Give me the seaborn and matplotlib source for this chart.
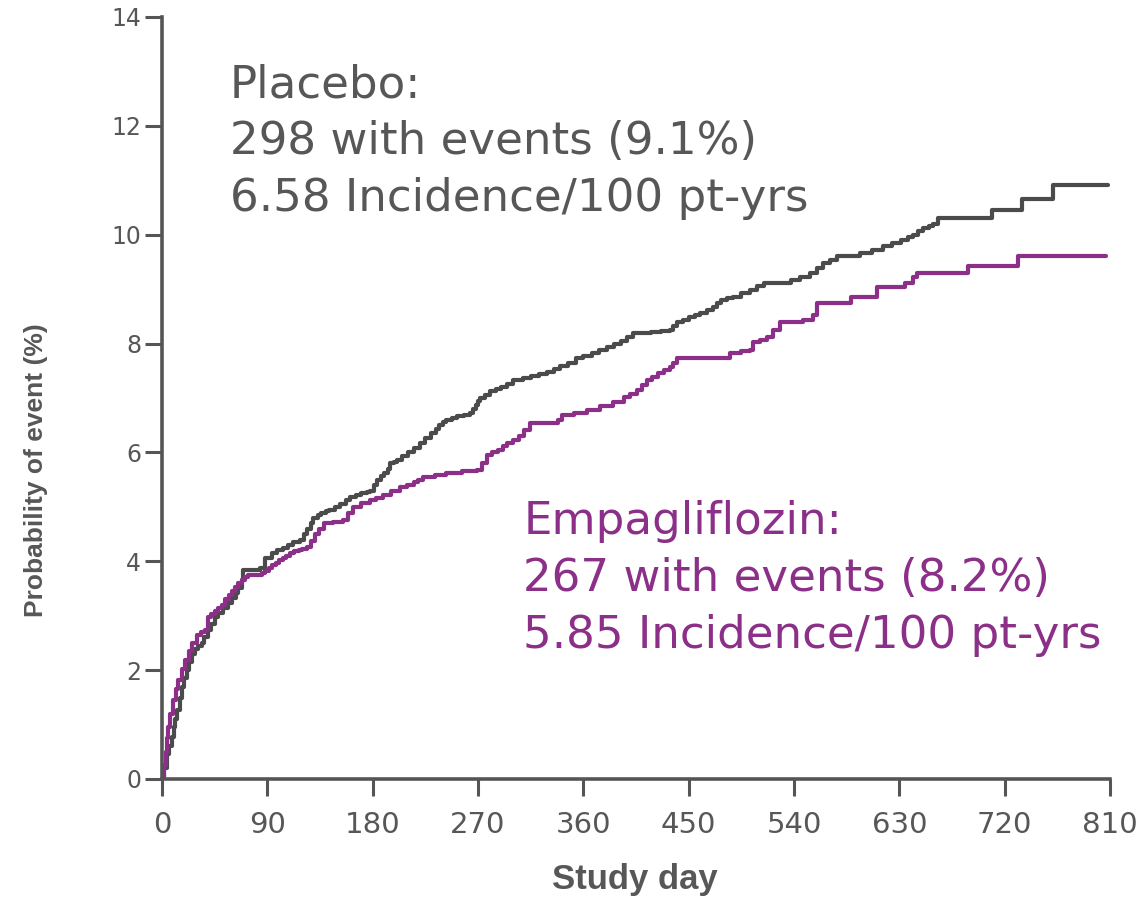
import matplotlib
matplotlib.use("Agg")
import matplotlib.pyplot as plt
import seaborn as sns
import pandas as pd

# Cumulative probability of event (%) by study day, Kaplan-Meier style steps
placebo_day = [0, 2, 4, 6, 8.5, 10, 11, 13, 15, 17, 19, 21, 23, 26, 28, 31, 34, 36,
               39, 42, 45, 48, 52, 56, 60, 63, 65, 68, 69, 84, 88, 94, 98, 103, 108,
               112, 118, 121, 124, 127, 129, 133, 136, 140, 143, 148, 152, 157, 161,
               166, 170, 175, 178, 181, 184, 187, 190, 193, 195, 198, 201, 205, 210,
               215, 220, 225, 230, 234, 237, 240, 243, 248, 252, 258, 263, 266, 268,
               270, 272, 276, 280, 285, 290, 295, 300, 308, 315, 322, 329, 335, 340,
               347, 354, 360, 367, 373, 380, 386, 392, 397, 402, 410, 418, 426, 434,
               437, 440, 445, 450, 455, 460, 466, 471, 474, 478, 483, 488, 495, 502,
               508, 514, 537, 545, 554, 560, 565, 571, 577, 596, 607, 616, 624, 631,
               637, 642, 646, 650, 655, 659, 663, 709, 735, 761, 808]
placebo_pct = [0, 0.2, 0.45, 0.6, 0.77, 0.95, 1.1, 1.27, 1.48, 1.69, 1.85, 2.0, 2.15,
               2.3, 2.38, 2.45, 2.5, 2.6, 2.74, 2.85, 2.98, 3.05, 3.15, 3.24, 3.32,
               3.42, 3.5, 3.65, 3.84, 3.88, 4.06, 4.15, 4.2, 4.24, 4.3, 4.35, 4.4, 4.5,
               4.6, 4.7, 4.8, 4.85, 4.88, 4.92, 4.94, 5.0, 5.05, 5.12, 5.18, 5.22,
               5.25, 5.28, 5.3, 5.4, 5.5, 5.56, 5.62, 5.7, 5.8, 5.83, 5.86, 5.93, 6.0,
               6.08, 6.17, 6.26, 6.35, 6.43, 6.5, 6.55, 6.6, 6.63, 6.66, 6.69, 6.72,
               6.8, 6.88, 6.94, 7.0, 7.06, 7.12, 7.16, 7.2, 7.26, 7.33, 7.37, 7.4, 7.44,
               7.48, 7.53, 7.58, 7.65, 7.73, 7.77, 7.82, 7.88, 7.94, 8.0, 8.05, 8.12,
               8.19, 8.2, 8.22, 8.23, 8.25, 8.32, 8.4, 8.44, 8.48, 8.52, 8.56, 8.62,
               8.67, 8.74, 8.8, 8.83, 8.86, 8.92, 8.98, 9.05, 9.11, 9.17, 9.23, 9.3,
               9.38, 9.48, 9.54, 9.6, 9.66, 9.72, 9.8, 9.85, 9.9, 9.95, 10.0, 10.06,
               10.12, 10.16, 10.2, 10.3, 10.45, 10.65, 10.92, 10.92]

empa_day = [0, 1.5, 3, 4, 5, 7, 9.4, 12, 14, 17, 20, 23, 26, 30, 33, 37, 39, 42, 45,
            48, 51, 54, 57, 60, 62, 65, 68, 71, 73.5, 85, 88, 91, 94, 97, 100, 103,
            106, 109, 113, 117, 120, 124, 127, 131, 134, 138, 146, 155, 159, 163, 170,
            178, 183, 189, 196, 203, 209, 215, 219, 223, 233, 243, 256, 269, 273, 278,
            282, 287, 291, 295, 300, 305, 309, 314, 338, 342, 352, 363, 374, 385, 395,
            400, 406, 410, 414, 419, 424, 429, 434, 437, 440, 485, 495, 502, 505, 511,
            517, 522, 528, 548, 556, 560, 589, 611, 635, 642, 645, 689, 731, 807]
empa_pct = [0, 0.25, 0.5, 0.75, 0.96, 1.2, 1.45, 1.65, 1.82, 2.02, 2.19, 2.36, 2.5,
            2.65, 2.7, 2.74, 2.98, 3.03, 3.08, 3.14, 3.2, 3.3, 3.38, 3.46, 3.53, 3.6,
            3.65, 3.72, 3.75, 3.78, 3.83, 3.88, 3.93, 3.97, 4.02, 4.06, 4.1, 4.15,
            4.18, 4.2, 4.23, 4.26, 4.38, 4.5, 4.6, 4.7, 4.73, 4.76, 4.88, 5.0, 5.07,
            5.13, 5.17, 5.22, 5.3, 5.37, 5.41, 5.45, 5.5, 5.55, 5.59, 5.62, 5.65, 5.68,
            5.8, 5.95, 6.0, 6.05, 6.11, 6.17, 6.23, 6.3, 6.42, 6.54, 6.6, 6.69, 6.73,
            6.78, 6.85, 6.93, 7.02, 7.08, 7.15, 7.24, 7.33, 7.39, 7.45, 7.51, 7.57,
            7.65, 7.73, 7.83, 7.86, 7.88, 8.03, 8.07, 8.12, 8.25, 8.4, 8.43, 8.52,
            8.74, 8.86, 9.04, 9.11, 9.22, 9.3, 9.42, 9.6, 9.6]

x_ticks = [0, 90, 180, 270, 360, 450, 540, 630, 720, 810]
y_ticks = [0, 2, 4, 6, 8, 10, 12, 14]

placebo_lines = ["Placebo:", "298 with events (9.1%)", "6.58 Incidence/100 pt-yrs"]
empa_lines = ["Empagliflozin:", "267 with events (8.2%)", "5.85 Incidence/100 pt-yrs"]

GREY_LINE = "#4b4b4b"
GREY_TEXT = "#575757"
AXIS = "#555555"
PURPLE = "#8b2f88"

sns.set_theme(style="ticks")
plt.rcParams["font.family"] = ["DejaVu Sans"]

df = pd.concat([
    pd.DataFrame({"day": placebo_day, "pct": placebo_pct, "arm": "Placebo"}),
    pd.DataFrame({"day": empa_day, "pct": empa_pct, "arm": "Empagliflozin"}),
])

fig = plt.figure(figsize=(11.38, 8.99), dpi=100)
ax = fig.add_axes([0.1424, 0.1335, 0.8330, 0.8476])

sns.lineplot(data=df, x="day", y="pct", hue="arm",
             palette={"Placebo": GREY_LINE, "Empagliflozin": PURPLE},
             hue_order=["Placebo", "Empagliflozin"],
             estimator=None, sort=True, drawstyle="steps-post",
             linewidth=3.0, legend=False, ax=ax)

ax.set_xlim(0, 810)
ax.set_ylim(0, 14)
ax.set_xticks(x_ticks)
ax.set_yticks(y_ticks)
ax.set_xlabel("")
ax.set_ylabel("")

for side in ("top", "right"):
    ax.spines[side].set_visible(False)
for side in ("left", "bottom"):
    ax.spines[side].set_color(AXIS)
    ax.spines[side].set_linewidth(2.6)
    ax.spines[side].set_capstyle("projecting")

ax.tick_params(axis="both", which="major", direction="out", length=12,
               width=2.2, color=AXIS, labelcolor=GREY_TEXT)
ax.tick_params(axis="y", labelsize=17, pad=3)
ax.tick_params(axis="x", labelsize=21, pad=11)

# Arm summaries
for i, txt in enumerate(placebo_lines):
    ax.text(0.0717, 0.895 - i * 0.0748, txt, transform=ax.transAxes,
            fontsize=32.5, color=GREY_TEXT, ha="left", va="baseline")
for i, txt in enumerate(empa_lines):
    ax.text(0.381, 0.3215 - i * 0.0748, txt, transform=ax.transAxes,
            fontsize=32.5, color=PURPLE, ha="left", va="baseline")

fig.text(0.0316, 0.4772, "Probability of event (%)", rotation=90,
         ha="center", va="center", fontsize=19, fontweight="bold",
         color=GREY_TEXT, family=["Liberation Sans", "DejaVu Sans"])
fig.text(0.558, 0.0111, "Study day", ha="center", va="baseline",
         fontsize=25, fontweight="bold", color=GREY_TEXT,
         family=["Liberation Sans", "DejaVu Sans"])

fig.savefig("out.png", dpi=100)
